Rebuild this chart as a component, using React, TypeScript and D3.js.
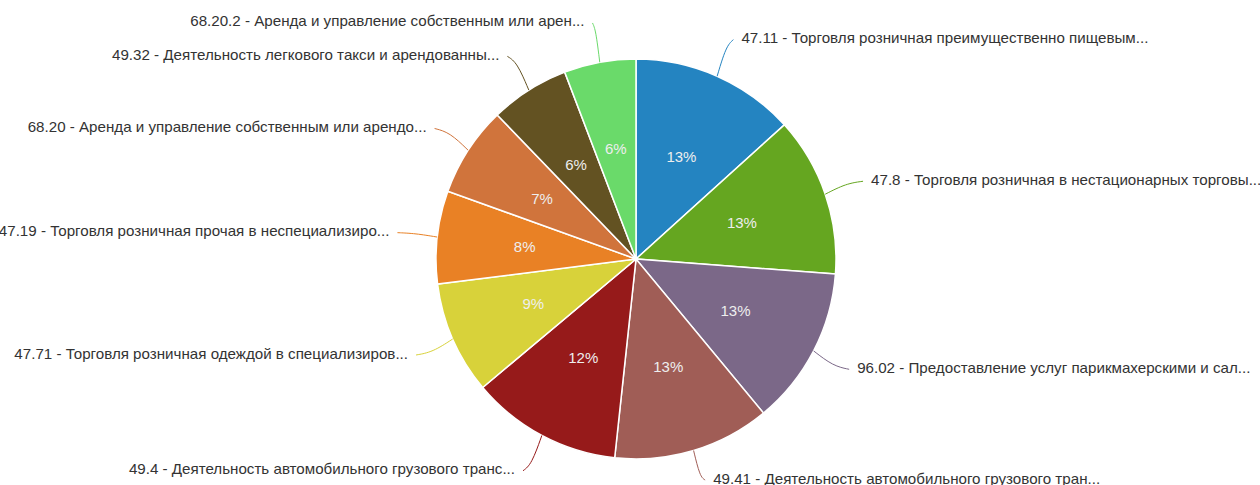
import React from "react";
import * as d3 from "d3";

const labels: string[] = [
  "47.11 - Торговля розничная преимущественно пищевым...",
  "47.8 - Торговля розничная в нестационарных торговы...",
  "96.02 - Предоставление услуг парикмахерскими и сал...",
  "49.41 - Деятельность автомобильного грузового тран...",
  "49.4 - Деятельность автомобильного грузового транс...",
  "47.71 - Торговля розничная одеждой в специализиров...",
  "47.19 - Торговля розничная прочая в неспециализиро...",
  "68.20 - Аренда и управление собственным или арендо...",
  "49.32 - Деятельность легкового такси и арендованны...",
  "68.20.2 - Аренда и управление собственным или арен...",
];
const values: number[] = [13.3, 12.9, 12.8, 12.7, 12.2, 9.1, 7.5, 7.3, 6.4, 5.8];
const colors: string[] = [
  "#2484c1", "#65a620", "#7b6888", "#a05d56", "#961a1a",
  "#d8d23a", "#e98125", "#d0743c", "#635222", "#6ada6a",
];

const W = 1260;
const H = 485;
const cx = 636;
const cy = 259;
const R = 200;
const LR = 240;
const FONT = "'Liberation Sans', Arial, sans-serif";

export default function App() {
  const total = d3.sum(values);
  const pie = d3.pie<number>().sort(null).value((d) => d);
  const arcs = pie(values);
  const arc = d3.arc<d3.PieArcDatum<number>>().innerRadius(0).outerRadius(R);
  const inner = d3.arc<d3.PieArcDatum<number>>().innerRadius(112).outerRadius(112);
  const line = d3.line<[number, number]>().curve(d3.curveBasis);

  return (
    <svg width={W} height={H} style={{ position: "absolute", left: 0, top: 0 }}>
      <g transform={`translate(${cx},${cy})`}>
        {arcs.map((a, i) => (
          <path key={"s" + i} d={arc(a) || ""} fill={colors[i]} stroke="#fff" strokeWidth={1.5} />
        ))}
        {arcs.map((a, i) => {
          const [x, y] = inner.centroid(a);
          return (
            <text key={"p" + i} x={x} y={y} textAnchor="middle" dominantBaseline="central"
              fontFamily={FONT} fontSize={15} fill="#eeeeee">
              {Math.round((a.data / total) * 100) + "%"}
            </text>
          );
        })}
        {arcs.map((a, i) => {
          const m = (a.startAngle + a.endAngle) / 2;
          const sx = R * Math.sin(m), sy = -R * Math.cos(m);
          const mx = (R + 22) * Math.sin(m), my = -(R + 22) * Math.cos(m);
          let ex = LR * Math.sin(m), ey = -LR * Math.cos(m);
          ey = Math.min(ey, H - 5 - cy);
          const right = ex >= 0;
          const midX = mx, midY = my + (ey - my) * 0.6;
          return (
            <g key={"l" + i}>
              <path d={line([[sx, sy], [midX, midY], [ex, ey]]) || ""} fill="none" stroke={colors[i]} strokeWidth={1} />
              <text x={right ? ex + 8 : ex - 8} y={ey - 2} textAnchor={right ? "start" : "end"}
                dominantBaseline="central" fontFamily={FONT}
                fontSize={15.15} fill="#333333">
                {labels[i]}
              </text>
            </g>
          );
        })}
      </g>
    </svg>
  );
}
